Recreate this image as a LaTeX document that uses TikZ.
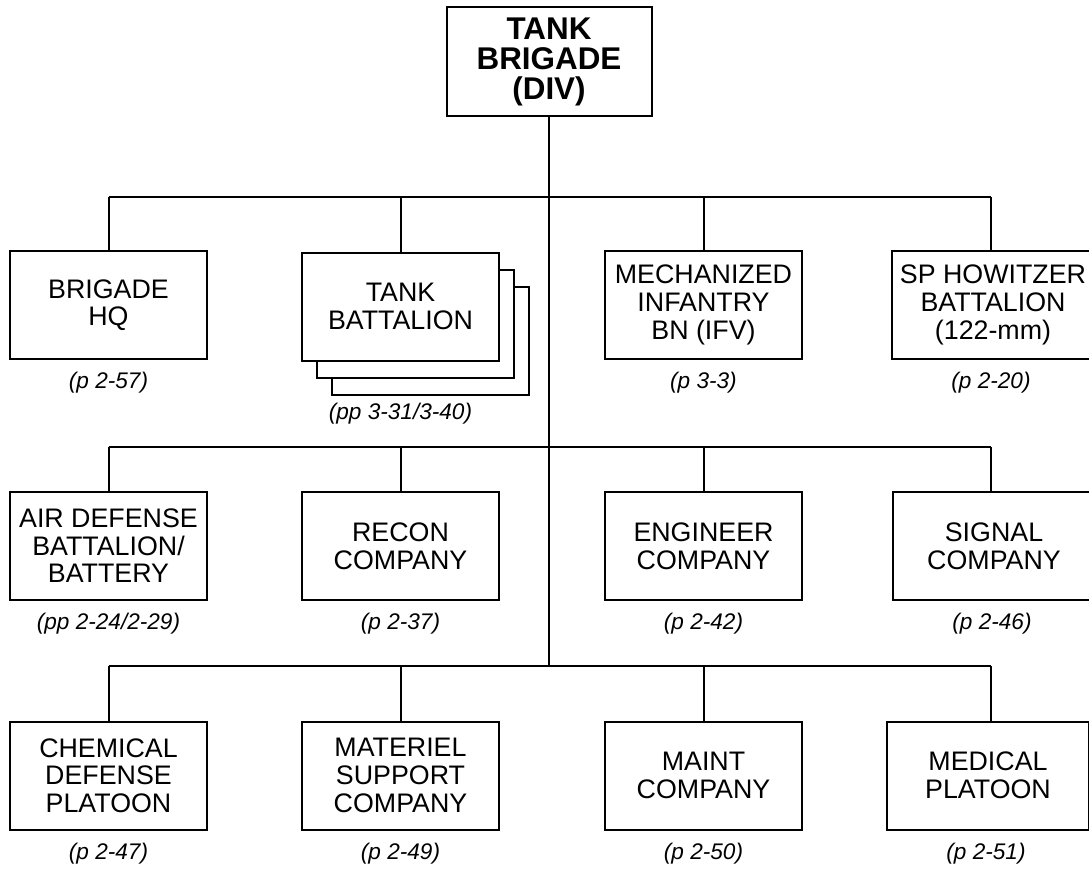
\documentclass[tikz,border=0pt]{standalone}
\usepackage{fontspec}
\setmainfont{Liberation Sans}
\usetikzlibrary{positioning}

\begin{document}
\begin{tikzpicture}[x=0.5pt, y=-0.5pt, line width=1pt,
        unit/.style={draw, fill=white, minimum width=98.5pt, minimum height=54pt, inner sep=1pt, align=center, font=\fontsize{13.4}{13.8}\selectfont},
        edgeunit/.style={unit, minimum width=101pt},
        pageref/.style={inner sep=1pt, font=\fontsize{11.3}{12}\selectfont\itshape}]
        \useasboundingbox (0,0) rectangle (1089,869);

        % parent
        \node[draw, minimum width=102.5pt, minimum height=54.5pt, inner sep=1pt, align=center, font=\fontsize{15.7}{15}\selectfont\bfseries] (div) at (549,61.5) {TANK\\BRIGADE\\(DIV)};

        % first row
        \node[unit] (hq)   at (108.5,305)  {BRIGADE\\HQ};
        \node[unit] (tankC) at (430.5,341) {};
        \node[unit] (tankB) at (415.5,324) {};
        \node[unit] (tank) at (400.5,306.5) {TANK\\BATTALION};
        \node[unit] (mech) at (703.5,305)  {MECHANIZED\\INFANTRY\\BN (IFV)};
        \node[edgeunit] (sp) at (993,305)  {SP HOWITZER\\BATTALION\\(122-mm)};

        % second row
        \node[unit] (ad)     at (108.5,546) {AIR DEFENSE\\BATTALION/\\BATTERY};
        \node[unit] (recon)  at (400.5,546) {RECON\\COMPANY};
        \node[unit] (engr)   at (703.5,546) {ENGINEER\\COMPANY};
        \node[edgeunit] (signal) at (994,546) {SIGNAL\\COMPANY};

        % third row
        \node[unit] (chem)  at (108.5,775.5) {CHEMICAL\\DEFENSE\\PLATOON};
        \node[unit] (matl)  at (400.5,775.5) {MATERIEL\\SUPPORT\\COMPANY};
        \node[unit] (maint) at (703.5,775.5) {MAINT\\COMPANY};
        \node[edgeunit] (med) at (988,775.5) {MEDICAL\\PLATOON};

        % page references
        \coordinate (tankfoot) at (tank.south |- tankC.south);
        \node[pageref] (hqref)     at ([yshift=-11.5pt]hq.south)     {(p 2-57)};
        \node[pageref] (tankref)   at ([yshift=-9pt]tankfoot)        {(pp 3-31/3-40)};
        \node[pageref] (mechref)   at ([yshift=-11.5pt]mech.south)   {(p 3-3)};
        \node[pageref] (spref)     at ([xshift=-1pt,yshift=-11.5pt]sp.south) {(p 2-20)};
        \node[pageref] (adref)     at ([yshift=-11.5pt]ad.south)     {(pp 2-24/2-29)};
        \node[pageref] (reconref)  at ([yshift=-11.5pt]recon.south)  {(p 2-37)};
        \node[pageref] (engrref)   at ([yshift=-11.5pt]engr.south)   {(p 2-42)};
        \node[pageref] (signalref) at ([xshift=-1pt,yshift=-11.5pt]signal.south) {(p 2-46)};
        \node[pageref] (chemref)   at ([yshift=-11.5pt]chem.south)   {(p 2-47)};
        \node[pageref] (matlref)   at ([yshift=-11.5pt]matl.south)   {(p 2-49)};
        \node[pageref] (maintref)  at ([yshift=-11.5pt]maint.south)  {(p 2-50)};
        \node[pageref] (medref)    at ([xshift=-1pt,yshift=-11.5pt]med.south) {(p 2-51)};

        % bus lines
        \coordinate (bus1) at (549,197);
        \coordinate (bus2) at (549,447);
        \coordinate (bus3) at (549,666);
        \coordinate (col4) at (991,0);
        \draw (div.south) -- (bus3);
        \draw (hq.north |- bus1) -- (col4 |- bus1);
        \draw (ad.north |- bus2) -- (col4 |- bus2);
        \draw (chem.north |- bus3) -- (col4 |- bus3);

        % drops to units
        \draw (hq.north) -- (hq.north |- bus1);
        \draw (tank.north) -- (tank.north |- bus1);
        \draw (mech.north) -- (mech.north |- bus1);
        \draw (col4 |- sp.north) -- (col4 |- bus1);
        \draw (ad.north) -- (ad.north |- bus2);
        \draw (recon.north) -- (recon.north |- bus2);
        \draw (engr.north) -- (engr.north |- bus2);
        \draw (col4 |- signal.north) -- (col4 |- bus2);
        \draw (chem.north) -- (chem.north |- bus3);
        \draw (matl.north) -- (matl.north |- bus3);
        \draw (maint.north) -- (maint.north |- bus3);
        \draw (col4 |- med.north) -- (col4 |- bus3);
    \end{tikzpicture}
\end{document}
